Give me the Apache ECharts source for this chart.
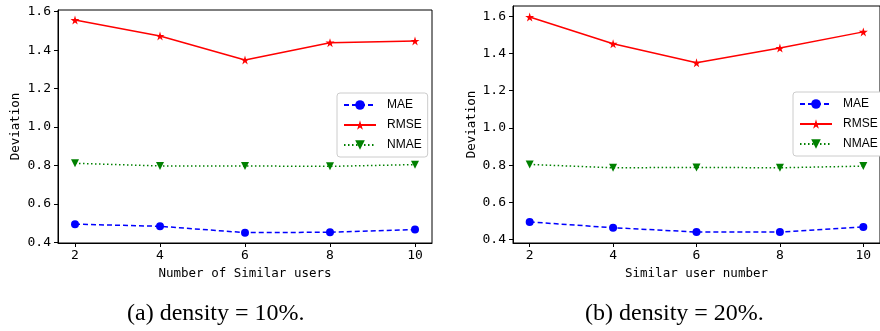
<!DOCTYPE html>
<html>
<head>
<meta charset="utf-8">
<script src="https://cdn.jsdelivr.net/npm/echarts@6/dist/echarts.min.js"></script>
<style>html,body{margin:0;padding:0;background:#fff}#c{width:880px;height:331px}</style>
</head>
<body>
<div id="c"></div>
<script>
// ---- data ----
var xValues = [2, 4, 6, 8, 10];
var yTicks = [0.4, 0.6, 0.8, 1.0, 1.2, 1.4, 1.6];
var seriesNames = ['MAE', 'RMSE', 'NMAE'];
// (a) density = 10%
var maeA  = [0.494, 0.483, 0.450, 0.452, 0.466];
var rmseA = [1.557, 1.474, 1.349, 1.439, 1.448];
var nmaeA = [0.811, 0.797, 0.797, 0.795, 0.804];
// (b) density = 20%
var maeB  = [0.495, 0.464, 0.441, 0.441, 0.468];
var rmseB = [1.596, 1.452, 1.350, 1.429, 1.516];
var nmaeB = [0.804, 0.786, 0.788, 0.786, 0.795];
var xTitleA = 'Number of Similar users';
var xTitleB = 'Similar user number';
var yTitle = 'Deviation';
var captionA = '(a) density = 10%.';
var captionB = '(b) density = 20%.';

var STAR = 'path://M50,0 L61,35 L98,35 L68,57 L79,91 L50,70 L21,91 L32,57 L2,35 L39,35 Z';
var mono = 'DejaVu Sans Mono';

function pairs(arr){ return xValues.map(function(x,i){ return [x, arr[i]]; }); }

function xAxis(idx, name){
  return {
    type: 'value', gridIndex: idx, min: 1.6, max: 10.4,
    name: name, nameLocation: 'middle', nameGap: 22,
    nameTextStyle: {fontFamily: mono, fontSize: 12.5, color: '#000'},
    axisLine: {show: true, onZero: false, lineStyle: {color: '#000', width: 1}},
    axisTick: {show: true, length: 4, customValues: xValues, lineStyle: {color: '#000'}},
    axisLabel: {customValues: xValues, margin: 6, fontFamily: mono, fontSize: 13, color: '#000'},
    splitLine: {show: false}
  };
}
function yAxis(idx, min, max, gap){
  return {
    type: 'value', gridIndex: idx, min: min, max: max,
    name: yTitle, nameLocation: 'middle', nameGap: gap, nameRotate: 90,
    nameTextStyle: {fontFamily: mono, fontSize: 12.5, color: '#000'},
    axisLine: {show: true, onZero: false, lineStyle: {color: '#000', width: 1}},
    axisTick: {show: true, length: 4, customValues: yTicks, lineStyle: {color: '#000'}},
    axisLabel: {customValues: yTicks, margin: 7, fontFamily: mono, fontSize: 13, color: '#000',
      formatter: function(v){ return Number(v).toFixed(1); }},
    splitLine: {show: false}
  };
}
function series(idx, mae, rmse, nmae){
  return [
    {name: 'MAE', type: 'line', xAxisIndex: idx, yAxisIndex: idx, data: pairs(mae),
     symbol: 'circle', symbolSize: 8, itemStyle: {color: '#0000ff'},
     lineStyle: {color: '#0000ff', width: 1.5, type: [5, 3]}, animation: false},
    {name: 'RMSE', type: 'line', xAxisIndex: idx, yAxisIndex: idx, data: pairs(rmse),
     symbol: STAR, symbolSize: 9, itemStyle: {color: '#ff0000'},
     lineStyle: {color: '#ff0000', width: 1.5, type: 'solid'}, animation: false},
    {name: 'NMAE', type: 'line', xAxisIndex: idx, yAxisIndex: idx, data: pairs(nmae),
     symbol: 'triangle', symbolRotate: 180, symbolSize: 8, itemStyle: {color: '#008000'},
     lineStyle: {color: '#008000', width: 1.5, type: [1.5, 2.5]}, animation: false}
  ];
}
function legend(left, top){
  return {
    data: seriesNames, orient: 'vertical', left: left, top: top,
    itemWidth: 32, itemHeight: 12, itemGap: 8,
    padding: [6, 6, 6, 6],
    backgroundColor: '#fff', borderColor: '#cccccc', borderWidth: 1, borderRadius: 3,
    textStyle: {fontFamily: 'Liberation Sans', fontSize: 12, color: '#000', padding: [0, 0, 0, 6]},
    selectedMode: false
  };
}

var chart = echarts.init(document.getElementById('c'), null, {renderer: 'canvas'});
chart.setOption({
  backgroundColor: '#fff',
  animation: false,
  grid: [
    {left: 58, top: 10, width: 374, height: 233, show: true, borderColor: '#000', borderWidth: 1, backgroundColor: 'transparent'},
    {left: 513, top: 6, width: 374, height: 237, show: true, borderColor: '#000', borderWidth: 1, backgroundColor: 'transparent'}
  ],
  xAxis: [xAxis(0, xTitleA), xAxis(1, xTitleB)],
  yAxis: [yAxis(0, 0.396, 1.609, 36), yAxis(1, 0.382, 1.655, 35)],
  legend: [legend(337, 93), legend(793, 92)],
  series: series(0, maeA, rmseA, nmaeA).concat(series(1, maeB, rmseB, nmaeB)),
  graphic: [
    {type: 'text', left: 127, top: 302, style: {text: captionA, font: '24px "Liberation Serif"', fill: '#000'}},
    {type: 'text', left: 585, top: 302, style: {text: captionB, font: '24px "Liberation Serif"', fill: '#000'}}
  ]
});
</script>
</body>
</html>
